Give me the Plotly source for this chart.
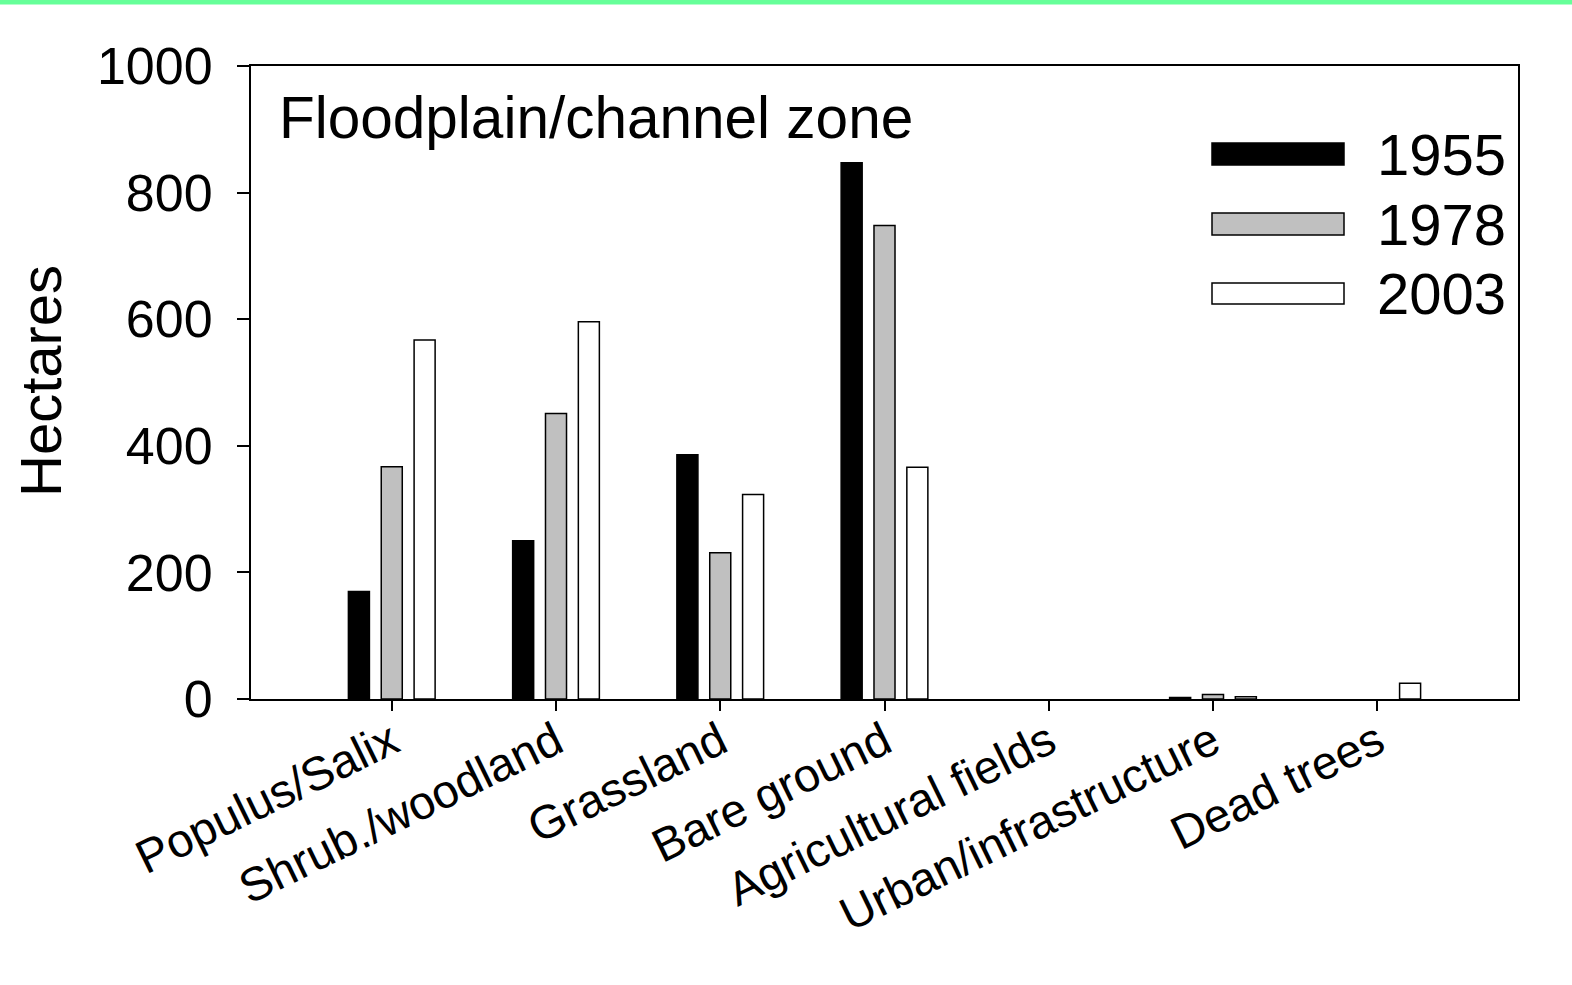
import plotly.graph_objects as go

categories = ["Populus/Salix", "Shrub./woodland", "Grassland", "Bare ground",
              "Agricultural fields", "Urban/infrastructure", "Dead trees"]
years = ["1955", "1978", "2003"]
v1955 = [170, 250, 386, 847, 0, 2.5, 0]
v1978 = [367, 451, 231, 748, 0, 7, 0]
v2003 = [567, 596, 323, 366, 0, 3.5, 25]
y_ticks = [0, 200, 400, 600, 800, 1000]

series = [v1955, v1978, v2003]
fills = ["#000000", "#c0c0c0", "#ffffff"]
FONT = "Liberation Sans, Arial, sans-serif"

W, H = 1572, 985
L, R, T, B = 251, 1518, 66, 699
pw, ph = R - L, B - T

def px_x(p):
    return (p - L) / pw

def px_y(p):
    return (B - p) / ph

fig = go.Figure()
for yr, vals, col in zip(years, series, fills):
    shown = [v if v > 0 else None for v in vals]  # zero-area bars are not drawn in the original
    fig.add_trace(go.Bar(x=categories, y=shown, name=yr,
                         marker=dict(color=col, line=dict(color="black", width=1.5)),
                         showlegend=False))

fig.update_layout(
    width=W, height=H,
    margin=dict(l=L, r=W - R, t=T, b=H - B, pad=0),
    paper_bgcolor="white", plot_bgcolor="white",
    barmode="group", bargap=0.4, bargroupgap=0.36,
    font=dict(family=FONT, color="black"),
)
fig.update_xaxes(
    range=[-0.857, 6.857], showline=True, linecolor="black", linewidth=2, mirror=True,
    ticks="outside", ticklen=10, tickwidth=2, tickcolor="black",
    tickangle=-26, tickfont=dict(size=47, family=FONT), showgrid=False,
    ticklabelstandoff=-15,
)
fig.update_yaxes(
    range=[0, 1000], tickvals=y_ticks, showline=True, linecolor="black", linewidth=2, mirror=True,
    ticks="outside", ticklen=12, tickwidth=2, tickcolor="black",
    tickfont=dict(size=52, family=FONT), showgrid=False, zeroline=False,
    ticklabelstandoff=14,
)

# y axis title
fig.add_annotation(text="Hectares", xref="paper", yref="paper", x=px_x(40), y=px_y(381),
                   xanchor="center", yanchor="middle", textangle=-90, showarrow=False,
                   font=dict(size=58, family=FONT, color="black"))
# panel label
fig.add_annotation(text="Floodplain/channel zone", xref="paper", yref="paper",
                   x=px_x(277), y=px_y(117), xanchor="left", yanchor="middle",
                   showarrow=False, font=dict(size=58.5, family=FONT, color="black"))

# legend drawn manually
leg_rows = [(143, 165), (213, 235), (283, 304)]
for (y0, y1), col, yr in zip(leg_rows, fills, years):
    fig.add_shape(type="rect", xref="paper", yref="paper",
                  x0=px_x(1212), x1=px_x(1344), y0=px_y(y1), y1=px_y(y0),
                  fillcolor=col, line=dict(color="black", width=1.5))
    fig.add_annotation(text=yr, xref="paper", yref="paper", x=px_x(1375),
                       y=px_y((y0 + y1) / 2), xanchor="left", yanchor="middle",
                       showarrow=False, font=dict(size=58, family=FONT, color="black"))

# green strip at top of page
fig.add_shape(type="rect", xref="paper", yref="paper",
              x0=px_x(0), x1=px_x(W), y0=px_y(4.5), y1=px_y(-2),
              fillcolor="#66ff99", line=dict(width=0), layer="above")

fig.write_html("out.html")
